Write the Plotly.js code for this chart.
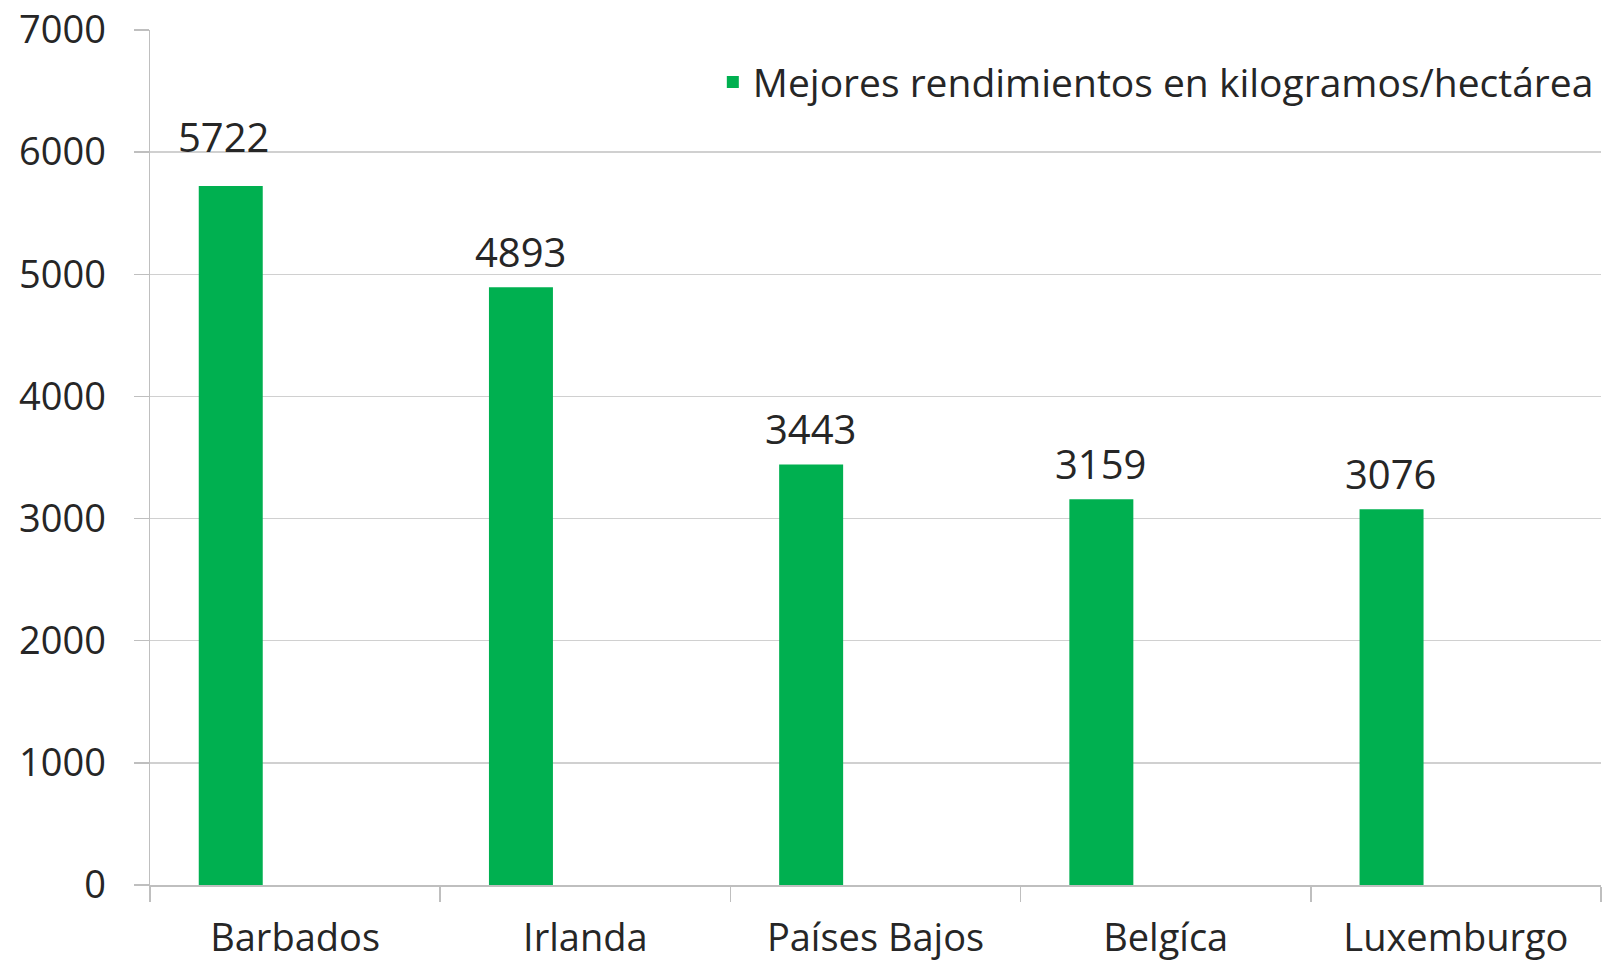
<!DOCTYPE html>
<html>
<head>
<meta charset="utf-8">
<script src="https://cdn.plot.ly/plotly-3.0.1.min.js"></script>
<style>html,body{margin:0;padding:0;background:#fff;}#chart{width:1616px;height:962px;}</style>
</head>
<body>
<div id="chart"></div>
<script>
const categories = ["Barbados", "Irlanda", "Países Bajos", "Belgíca", "Luxemburgo"];
const values = [5722, 4893, 3443, 3159, 3076];
const seriesName = "Mejores rendimientos en kilogramos/hectárea";
const yTicks = [0, 1000, 2000, 3000, 4000, 5000, 6000, 7000];

const FONT = "Open Sans, Noto Sans, sans-serif";
const TXT = "#262626";
const GRID = "#d0d0d0";

const trace = {
  type: "bar",
  x: categories,
  y: values,
  name: seriesName,
  marker: {color: "#00B050"},
  width: 0.2205,
  offset: -0.332,
  showlegend: true,
  hoverinfo: "x+y"
};

// label placement styling (first label sits a bit higher/left, as in the original)
const labelXShift = (i) => (i === 0 ? -72 : -65);
const labelYShift = (i) => (i === 0 ? 20 : 6);

const annotations = categories.map((c, i) => ({
  x: i, y: values[i], xref: "x", yref: "y",
  text: String(values[i]), showarrow: false,
  xanchor: "center", yanchor: "bottom",
  xshift: labelXShift(i), yshift: labelYShift(i),
  font: {family: FONT, size: 40, color: TXT}
}));

const layout = {
  width: 1616, height: 962,
  margin: {l: 150, r: 15, t: 29.5, b: 76.5},
  paper_bgcolor: "#fff", plot_bgcolor: "#fff",
  font: {family: FONT, color: TXT},
  showlegend: true,
  legend: {
    x: 0.9985, xanchor: "right", y: 0.939, yanchor: "middle",
    font: {family: FONT, size: 39, color: TXT},
    bgcolor: "rgba(0,0,0,0)", itemwidth: 30
  },
  xaxis: {
    type: "category",
    range: [-0.5, 4.5],
    showgrid: false,
    showline: true, linecolor: "#bfbfbf", linewidth: 1.5,
    ticks: "outside", ticklen: 15, tickcolor: "#bfbfbf", tickwidth: 1.5,
    tickson: "boundaries",
    tickfont: {family: FONT, size: 38, color: TXT},
    ticklabelstandoff: 19,
    fixedrange: true
  },
  yaxis: {
    range: [0, 7000],
    tickvals: yTicks,
    ticktext: yTicks.map(String),
    showgrid: true, gridcolor: GRID, gridwidth: 1.5,
    showline: true, linecolor: "#bfbfbf", linewidth: 1.5,
    ticks: "outside", ticklen: 15, tickcolor: "#bfbfbf", tickwidth: 1.5,
    tickfont: {family: FONT, size: 38, color: TXT},
    ticklabelstandoff: 20,
    zeroline: false,
    fixedrange: true
  },
  annotations: annotations
};

Plotly.newPlot("chart", [trace], layout, {staticPlot: true, displayModeBar: false});
</script>
</body>
</html>
